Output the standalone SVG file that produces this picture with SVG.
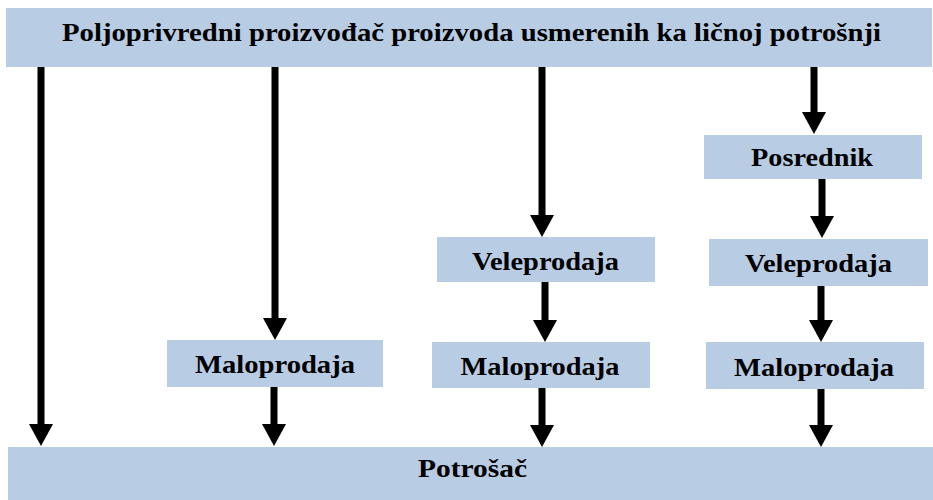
<svg xmlns="http://www.w3.org/2000/svg" width="933" height="500" viewBox="0 0 933 500">
<style>
  .box { fill: #b8cce4; }
  .lbl { font-family: "Liberation Serif", "Times New Roman", serif; font-weight: bold; font-size: 25px; fill: #000; text-anchor: middle; }
  .arr { stroke: #000; stroke-width: 7; fill: none; marker-end: url(#head); }
</style>
<defs>
  <marker id="head" markerUnits="userSpaceOnUse" markerWidth="22" markerHeight="24" viewBox="0 0 22 24" refX="1" refY="12" orient="auto">
    <path d="M0,0 L22,12 L0,24 Z" fill="#000"/>
  </marker>
</defs>
<rect width="933" height="500" fill="#fff"/>
<g id="connectors">
  <path class="arr" d="M41,67 V425"/>
  <path class="arr" d="M275,67 V319"/>
  <path class="arr" d="M274,387 V425"/>
  <path class="arr" d="M542,67 V216"/>
  <path class="arr" d="M545,282 V321"/>
  <path class="arr" d="M542,388 V426"/>
  <path class="arr" d="M814,67 V113"/>
  <path class="arr" d="M822,179 V217"/>
  <path class="arr" d="M821,286 V321"/>
  <path class="arr" d="M821,389 V426"/>
</g>
<g id="proizvodjac">
  <rect class="box" x="6" y="8" width="926" height="59"/>
  <text class="lbl" x="471.5" y="41" textLength="819" lengthAdjust="spacingAndGlyphs">Poljoprivredni proizvođač proizvoda usmerenih ka ličnoj potrošnji</text>
</g>
<g id="maloprodaja1">
  <rect class="box" x="167" y="340" width="216" height="47"/>
  <text class="lbl" x="275" y="373" textLength="160" lengthAdjust="spacingAndGlyphs">Maloprodaja</text>
</g>
<g id="veleprodaja1">
  <rect class="box" x="437" y="237" width="218" height="45"/>
  <text class="lbl" x="545.5" y="270" textLength="147" lengthAdjust="spacingAndGlyphs">Veleprodaja</text>
</g>
<g id="maloprodaja2">
  <rect class="box" x="432" y="342" width="218" height="46"/>
  <text class="lbl" x="540" y="375" textLength="159" lengthAdjust="spacingAndGlyphs">Maloprodaja</text>
</g>
<g id="posrednik">
  <rect class="box" x="704" y="135" width="218" height="44"/>
  <text class="lbl" x="812" y="166" textLength="122" lengthAdjust="spacingAndGlyphs">Posrednik</text>
</g>
<g id="veleprodaja2">
  <rect class="box" x="709" y="239" width="219" height="47"/>
  <text class="lbl" x="818.5" y="272" textLength="147" lengthAdjust="spacingAndGlyphs">Veleprodaja</text>
</g>
<g id="maloprodaja3">
  <rect class="box" x="706" y="342" width="218" height="47"/>
  <text class="lbl" x="814" y="376" textLength="160" lengthAdjust="spacingAndGlyphs">Maloprodaja</text>
</g>
<g id="potrosac">
  <rect class="box" x="8" y="447" width="925" height="53"/>
  <text class="lbl" x="472.5" y="477" textLength="109" lengthAdjust="spacingAndGlyphs">Potrošač</text>
</g>
</svg>
